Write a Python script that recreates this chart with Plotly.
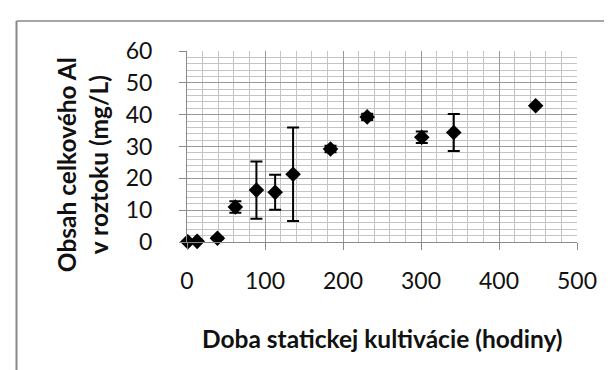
import plotly.graph_objects as go

hours = [1, 13, 39, 62, 89, 113, 136, 184, 231, 301, 342, 447]
al_conc = [0.1, 0.2, 1.2, 11.0, 16.3, 15.6, 21.3, 29.2, 39.3, 32.9, 34.4, 42.8]
al_err = [0, 0, 0.3, 1.8, 9.0, 5.5, 14.7, 1.0, 1.0, 1.8, 5.8, 0]

x_ticks = [0, 100, 200, 300, 400, 500]
y_ticks = [0, 10, 20, 30, 40, 50, 60]

FONT = "Lato, Carlito, Calibri, 'Open Sans', sans-serif"

fig = go.Figure()
fig.add_trace(go.Scatter(
    x=hours, y=al_conc, mode="markers",
    marker=dict(symbol="diamond", size=12, color="black"),
    error_y=dict(type="data", array=al_err, visible=True, color="black",
                 thickness=2, width=6),
    showlegend=False, cliponaxis=False,
))

axis_common = dict(
    showgrid=True, gridcolor="#9a9a9a", gridwidth=1,
    ticks="outside", ticklen=7, tickcolor="#8a8a8a", tickwidth=1,
    showline=True, linecolor="#8a8a8a", linewidth=1,
    zeroline=False,
    tickfont=dict(family=FONT, size=23, color="#111111"),
)

fig.update_xaxes(range=[0, 500], tickvals=x_ticks, **axis_common,
                 minor=dict(dtick=20, showgrid=True, gridcolor="#c4c4c4", gridwidth=1, ticks=""),
                 ticklabelstandoff=11)
fig.update_yaxes(range=[0, 60], tickvals=y_ticks, **axis_common,
                 minor=dict(dtick=2, showgrid=True, gridcolor="#c4c4c4", gridwidth=1, ticks=""),
                 ticklabelstandoff=22)

fig.update_layout(
    width=612, height=370,
    margin=dict(l=179, r=43, t=43, b=136),
    paper_bgcolor="white", plot_bgcolor="white",
    font=dict(family=FONT, color="#111111"),
    annotations=[
        dict(text="<b>Doba statickej kultivácie (hodiny)</b>", xref="paper", yref="paper",
             x=(374 - 179) / 390, y=(234 - 331) / 191.5, xanchor="center", yanchor="middle",
             showarrow=False, font=dict(size=24.5, family=FONT)),
        dict(text="<b>Obsah celkového Al<br>v roztoku (mg/L)</b>", xref="paper", yref="paper",
             x=(74 - 179) / 390, y=(234 - 157) / 191.5, xanchor="center", yanchor="middle",
             showarrow=False, textangle=-90, font=dict(size=24.5, family=FONT)),
    ],
    shapes=[
        dict(type="line", xref="paper", yref="paper",
             x0=(8.5 - 179) / 390, x1=(615 - 179) / 390,
             y0=(234 - 12.5) / 191.5, y1=(234 - 12.5) / 191.5,
             line=dict(color="#888888", width=1.5)),
        dict(type="line", xref="paper", yref="paper",
             x0=(8.5 - 179) / 390, x1=(8.5 - 179) / 390,
             y0=(234 - 12.5) / 191.5, y1=(234 - 375) / 191.5,
             line=dict(color="#888888", width=2)),
    ],
)

fig.write_html("out.html")
